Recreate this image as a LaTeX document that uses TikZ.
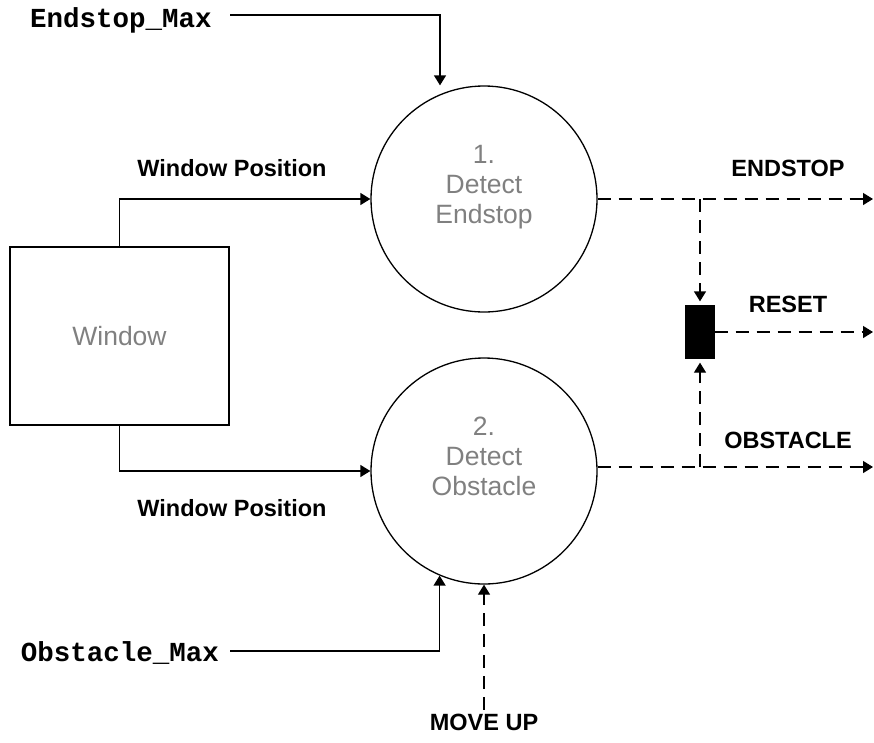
\documentclass[tikz,border=0pt]{standalone}
\usepackage{fontspec}
\setmainfont{Liberation Sans}
\setmonofont{Liberation Mono}
\usetikzlibrary{arrows.meta,positioning}

\begin{document}
\begin{tikzpicture}[x=1pt,y=-1pt,>={Triangle[length=10pt,width=12pt]},
 line width=1.3pt,
 proc/.style={draw,circle,minimum size=226pt,inner sep=0pt,align=center,text=gray,
  font=\fontsize{26.5}{30}\selectfont,text depth=29pt},
 store/.style={draw,rectangle,minimum width=219pt,minimum height=178pt,text=gray,
  font=\fontsize{26.5}{30}\selectfont},
 latch/.style={draw,fill=black,rectangle,minimum width=28pt,minimum height=52pt,inner sep=0pt},
 lbl/.style={font=\fontsize{23.5}{26}\selectfont\bfseries},
 var/.style={font=\fontsize{27.5}{30}\selectfont\ttfamily\bfseries},
 flow/.style={->},
 dflow/.style={->,dash pattern=on 13pt off 8pt}]
\useasboundingbox (0,0) rectangle (874,742);
\node[proc] (det1) at (484,199) {1.\\Detect\\Endstop};
\node[proc] (det2) at (484,471) {2.\\Detect\\Obstacle};
\node[store] (win) at (119.5,336) {Window};
\node[latch] (rst) at (700,332) {};
\node[var] (emax) at (121,20) {Endstop\_Max};
\node[var] (omax) at (120,653) {Obstacle\_Max};
\node[lbl] (wpos1) at (232,168) {Window Position};
\node[lbl] (wpos2) at (232,508) {Window Position};
\node[lbl] (moveup) at (484,722) {MOVE UP};
\node[lbl] (endlbl) at (788,168) {ENDSTOP};
\node[lbl] (rstlbl) at (788,304) {RESET};
\node[lbl] (obslbl) at (788,440) {OBSTACLE};
\coordinate (emaxout) at (230,15);
\coordinate (omaxout) at (230,651);
\coordinate (endout) at (873,199);
\coordinate (rstout) at (873,332);
\coordinate (obsout) at (873,467);
% inputs
\draw[flow] (emaxout) -| ([xshift=-44pt]det1.north);
\draw[flow] (omaxout) -| (det2.247);
\draw[flow] (win.north) |- (det1.west);
\draw[flow] (win.south) |- (det2.west);
\draw[dflow] (moveup.north) -- (det2.south);
% outputs
\draw[dflow] (det1.east) -- (endout);
\draw[dflow] (det2.east |- obsout) -- (obsout);
\draw[dflow] (rst.east) -- (rstout);
\draw[dflow,shorten >=4pt] (rst.north |- endout) -- (rst.north);
\draw[dflow,shorten >=4pt] (rst.south |- obsout) -- (rst.south);
\end{tikzpicture}
\end{document}
